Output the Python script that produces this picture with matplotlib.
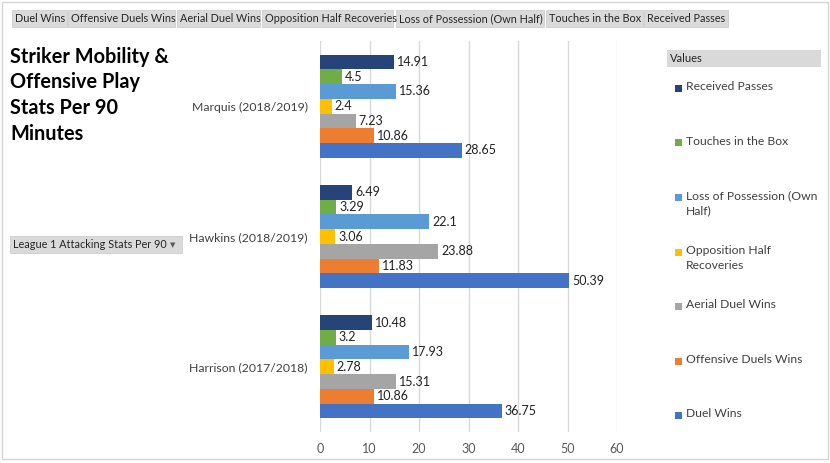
import numpy as np
import matplotlib
matplotlib.use("Agg")
import matplotlib.pyplot as plt
from matplotlib.patches import Rectangle

plt.rcParams['font.family'] = ['Lato', 'DejaVu Sans']

# ==================== DATA ====================
players = ["Harrison (2017/2018)", "Hawkins (2018/2019)", "Marquis (2018/2019)"]
series = ["Duel Wins", "Offensive Duels Wins", "Aerial Duel Wins",
          "Opposition Half Recoveries", "Loss of Possession (Own Half)",
          "Touches in the Box", "Received Passes"]
duel_wins = [36.75, 50.39, 28.65]
offensive_duels = [10.86, 11.83, 10.86]
aerial_duels = [15.31, 23.88, 7.23]
opp_half_recov = [2.78, 3.06, 2.4]
loss_possession = [17.93, 22.1, 15.36]
touches_box = [3.2, 3.29, 4.5]
received_passes = [10.48, 6.49, 14.91]
values = [duel_wins, offensive_duels, aerial_duels, opp_half_recov,
          loss_possession, touches_box, received_passes]
legend_labels = ["Received Passes", "Touches in the Box", "Loss of Possession (Own\nHalf)",
                 "Opposition Half\nRecoveries", "Aerial Duel Wins",
                 "Offensive Duels Wins", "Duel Wins"]
colors = ["#4472C4", "#ED7D31", "#A5A5A5", "#FFC000", "#5B9BD5", "#70AD47", "#264478"]

W, H = 830, 463
def fx(x): return x / W
def fy(y): return 1 - y / H

fig = plt.figure(figsize=(8.3, 4.63), dpi=100)

# outer frame
fig.patches.append(Rectangle((fx(2), fy(459)), fx(826), 457 / H, transform=fig.transFigure,
                             fill=False, edgecolor="#d4d4d4", lw=1))

# ==================== BARS ====================
ax = fig.add_axes([fx(320), fy(432), fx(617 - 320), (432 - 41) / H])
n = len(series)
bh = 0.113
y = np.arange(len(players))
for i, (name, vals, c) in enumerate(zip(series, values, colors)):
    pos = y + (i - (n - 1) / 2) * bh
    ax.barh(pos, vals, height=bh, color=c, label=name, zorder=2)
    for p, v in zip(pos, vals):
        ax.text(v + 0.6, p, f"{v:g}", va="center", ha="left", fontsize=9, color="#222222")

ax.set_xlim(0, 60)
ax.set_ylim(-0.5, len(players) - 0.5)
ax.set_xticks(range(0, 61, 10))
ax.set_yticks(y)
ax.set_yticklabels(players, fontsize=8.8, color="#404040")
ax.tick_params(axis="x", colors="#595959", labelsize=9, length=0, pad=8)
ax.tick_params(axis="y", length=0, pad=9)
ax.grid(axis="x", color="#d9d9d9", lw=1, zorder=0)
for s in ax.spines.values():
    s.set_visible(False)

# ==================== FIELD BUTTONS ====================
def button(x0, x1, y0, y1, text, arrow=False):
    fig.patches.append(Rectangle((fx(x0), fy(y1)), fx(x1 - x0), (y1 - y0) / H,
                                 transform=fig.transFigure, facecolor="#dadada",
                                 edgecolor="#c8c8c8", lw=0.5))
    fig.text(fx(x0 + 2.5), fy((y0 + y1) / 2), text, fontsize=7.8, color="#262626",
             va="center", ha="left")
    if arrow:
        fig.text(fx(x1 - 9), fy((y0 + y1) / 2 + 1), "▼", fontsize=5, color="#595959",
                 va="center", ha="center", family="DejaVu Sans")

btn_x = [(12, 67), (68, 175), (177, 260), (262, 393), (396, 544), (546, 643), (644, 728)]
for (x0, x1), name in zip(btn_x, series):
    button(x0, x1, 10, 27, name)

button(10, 182, 236, 253, "League 1 Attacking Stats Per 90", arrow=True)

# ==================== TITLE ====================
title_lines = ["Striker Mobility &", "Offensive Play", "Stats Per 90", "Minutes"]
for k, t in enumerate(title_lines):
    fig.text(fx(10), fy(57 + k * 25.5), t, fontsize=14.3, fontweight="bold",
             color="#000000", va="center", ha="left")

# ==================== LEGEND ====================
fig.patches.append(Rectangle((fx(667), fy(67)), fx(821 - 667), 17 / H,
                             transform=fig.transFigure, facecolor="#d9d9d9", edgecolor="none"))
fig.text(fx(670), fy(58.5), "Values", fontsize=8, color="#262626", va="center", ha="left")

leg_y = [88, 143, 197, 252, 306, 361, 415]
leg_colors = colors[::-1]
for yy, lab, c in zip(leg_y, legend_labels, leg_colors):
    fig.patches.append(Rectangle((fx(675), fy(yy + 3.5)), fx(7), 7 / H,
                                 transform=fig.transFigure, facecolor=c, edgecolor="none"))
    fig.text(fx(686), fy(yy - 7), lab, fontsize=8.7, color="#404040", va="top", ha="left",
             linespacing=1.45)

plt.savefig("out.png", dpi=100)
